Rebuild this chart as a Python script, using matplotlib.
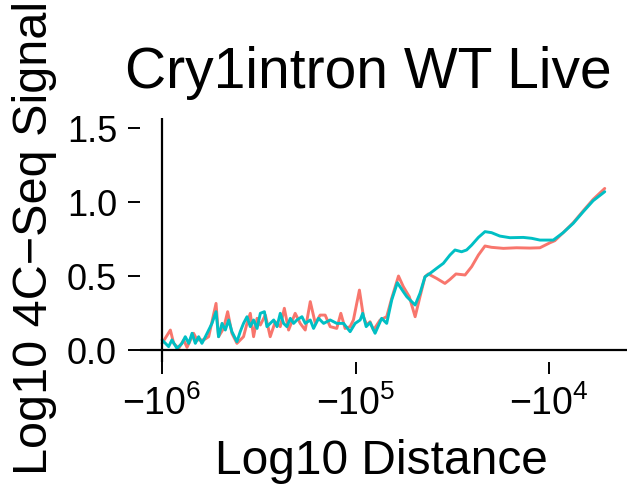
import matplotlib
matplotlib.use("Agg")
import matplotlib.pyplot as plt
import numpy as np

plt.rcParams['font.family'] = ['Liberation Sans', 'DejaVu Sans']
plt.rcParams['mathtext.fontset'] = 'custom'
plt.rcParams['mathtext.rm'] = 'Liberation Sans'
plt.rcParams['mathtext.it'] = 'Liberation Sans:italic'
plt.rcParams['mathtext.bf'] = 'Liberation Sans:bold'

title = "Cry1intron WT Live"
xlabel = "Log10 Distance"
ylabel = "Log10 4C\u2212Seq Signal"
xtick_exps = [6, 5, 4]
ytick_vals = [0.0, 0.5, 1.0, 1.5]

# log10 of |distance| (distance is negative, upstream) and signal
cyan_logdist = [6.0, 5.966, 5.949, 5.923, 5.897, 5.880, 5.862, 5.845, 5.828, 5.811,
                5.794, 5.776, 5.759, 5.742, 5.721, 5.708, 5.690, 5.673, 5.656, 5.639,
                5.613, 5.596, 5.579, 5.561, 5.544, 5.527, 5.509, 5.492, 5.471, 5.458,
                5.441, 5.423, 5.406, 5.389, 5.372, 5.355, 5.337, 5.320, 5.303, 5.277,
                5.260, 5.234, 5.217, 5.191, 5.165, 5.131, 5.097, 5.062, 5.028, 5.002,
                4.976, 4.963, 4.945, 4.925, 4.899, 4.865, 4.839, 4.813, 4.784, 4.753,
                4.735, 4.692, 4.667, 4.641, 4.615, 4.581, 4.546, 4.512, 4.486, 4.452,
                4.426, 4.400, 4.365, 4.331, 4.297, 4.254, 4.202, 4.133, 4.090, 4.047,
                3.978, 3.927, 3.875, 3.823, 3.772, 3.712]
cyan_signal = [0.068, 0.023, 0.068, 0.011, 0.045, 0.090, 0.045, 0.113, 0.045, 0.090,
               0.045, 0.090, 0.135, 0.180, 0.259, 0.090, 0.180, 0.135, 0.203, 0.124,
               0.056, 0.124, 0.180, 0.225, 0.158, 0.203, 0.146, 0.248, 0.259, 0.158,
               0.180, 0.203, 0.158, 0.248, 0.180, 0.158, 0.214, 0.180, 0.203, 0.225,
               0.180, 0.203, 0.146, 0.214, 0.180, 0.203, 0.180, 0.180, 0.124, 0.180,
               0.203, 0.248, 0.158, 0.185, 0.113, 0.214, 0.180, 0.338, 0.455, 0.394,
               0.360, 0.304, 0.383, 0.495, 0.518, 0.552, 0.586, 0.642, 0.676, 0.664,
               0.676, 0.709, 0.761, 0.800, 0.793, 0.770, 0.759, 0.761, 0.755, 0.743,
               0.743, 0.793, 0.856, 0.935, 1.009, 1.070]

red_logdist = [6.0, 5.957, 5.940, 5.914, 5.888, 5.871, 5.837, 5.819, 5.785, 5.759,
               5.721, 5.708, 5.682, 5.661, 5.639, 5.613, 5.579, 5.561, 5.544, 5.527,
               5.509, 5.492, 5.466, 5.441, 5.415, 5.389, 5.368, 5.346, 5.312, 5.286,
               5.260, 5.234, 5.208, 5.183, 5.157, 5.131, 5.097, 5.076, 5.054, 5.028,
               5.011, 4.980, 4.959, 4.942, 4.925, 4.907, 4.873, 4.839, 4.813, 4.778,
               4.753, 4.722, 4.692, 4.667, 4.641, 4.624, 4.581, 4.538, 4.512, 4.481,
               4.434, 4.400, 4.365, 4.331, 4.297, 4.236, 4.168, 4.099, 4.047, 3.995,
               3.970, 3.927, 3.875, 3.823, 3.772, 3.712]
red_signal = [0.045, 0.135, 0.045, 0.011, 0.068, 0.018, 0.113, 0.068, 0.068, 0.090,
              0.315, 0.090, 0.146, 0.259, 0.113, 0.045, 0.090, 0.180, 0.248, 0.090,
              0.214, 0.169, 0.236, 0.090, 0.191, 0.158, 0.282, 0.135, 0.248, 0.180,
              0.135, 0.327, 0.180, 0.236, 0.236, 0.158, 0.146, 0.248, 0.146, 0.158,
              0.203, 0.405, 0.225, 0.169, 0.191, 0.135, 0.203, 0.225, 0.350, 0.500,
              0.428, 0.360, 0.225, 0.360, 0.495, 0.514, 0.484, 0.450, 0.477, 0.514,
              0.507, 0.563, 0.642, 0.703, 0.694, 0.687, 0.691, 0.689, 0.691, 0.725,
              0.739, 0.793, 0.860, 0.941, 1.018, 1.092]

W, H = 627, 484
fig = plt.figure(figsize=(W / 100, H / 100), dpi=100)
ax = fig.add_axes([140 / W, 122 / H, 487 / W, 244 / H])

ax.plot(-np.array(red_logdist), red_signal, color='#F8766D', lw=2.1,
        solid_joinstyle='round', solid_capstyle='round')
ax.plot(-np.array(cyan_logdist), cyan_signal, color='#00BFC4', lw=2.1,
        solid_joinstyle='round', solid_capstyle='round')

ax.axhline(0, color='black', lw=1.6, zorder=3)
ax.axvline(-6, color='black', lw=1.6, zorder=3)

ax.set_xlim(-6.114, -3.597)
ax.set_ylim(-0.081, 1.568)
for s in ax.spines.values():
    s.set_visible(False)

ax.set_xticks([-e for e in xtick_exps])
ax.set_xticklabels([r'$-10^{%d}$' % e for e in xtick_exps], fontsize=27)
ax.set_yticks(ytick_vals)
ax.set_yticklabels(['%.1f' % v for v in ytick_vals], fontsize=26)
ax.tick_params(axis='both', direction='out', length=8.5, width=1.4, color='black')
ax.tick_params(axis='x', pad=8)
ax.tick_params(axis='y', pad=8)

fig.text(125 / W, 1 - 88 / H, title, fontsize=41, ha='left', va='baseline')
fig.text(0.5 * (136 + 627) / W, 1 - 474 / H, xlabel, fontsize=34.5, ha='center', va='baseline')
fig.text(12 / W, 1 - 238 / H, ylabel, fontsize=35, rotation=90, ha='left', va='center')

fig.savefig('out.png', dpi=100)
